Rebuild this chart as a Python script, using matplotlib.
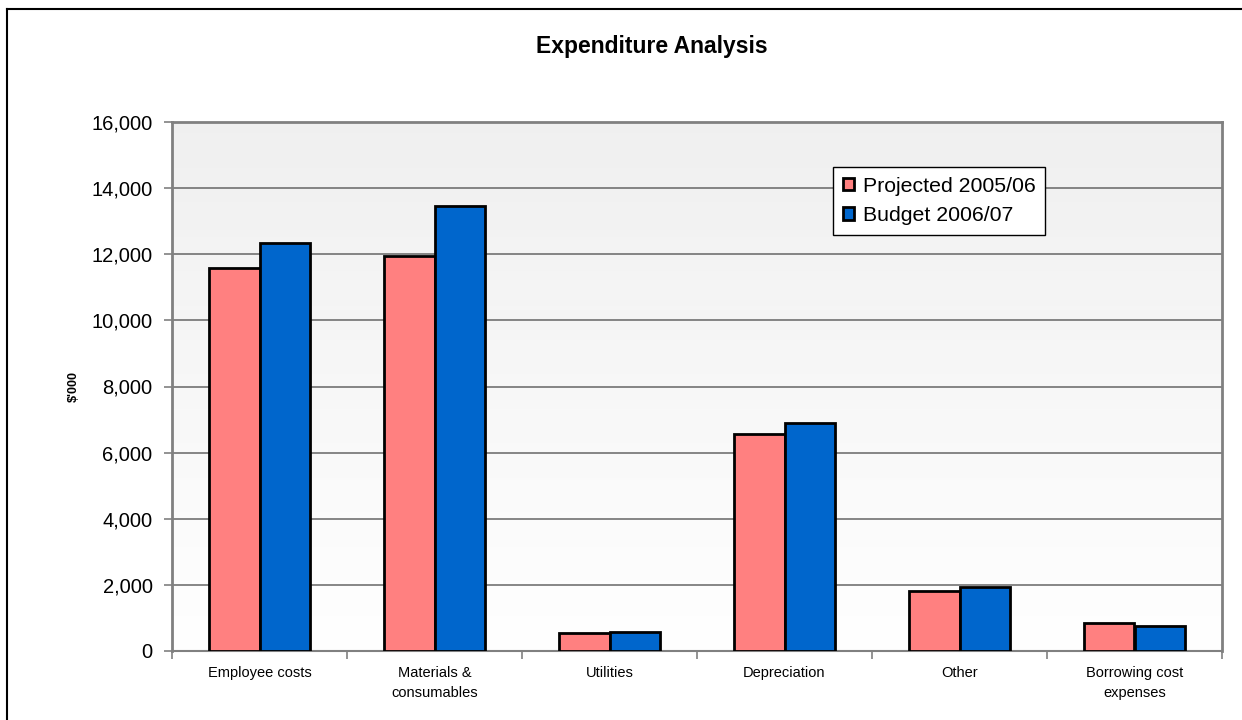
import numpy as np
import matplotlib
matplotlib.use("Agg")
import matplotlib.pyplot as plt
from matplotlib.lines import Line2D

plt.rcParams['font.family'] = ['Liberation Sans', 'DejaVu Sans']

categories = ["Employee costs", "Materials &\nconsumables", "Utilities",
              "Depreciation", "Other", "Borrowing cost\nexpenses"]
projected = [11580, 11960, 530, 6550, 1820, 840]
budget = [12340, 13470, 560, 6910, 1940, 770]
series_names = ["Projected 2005/06", "Budget 2006/07"]
yticks = [0, 2000, 4000, 6000, 8000, 10000, 12000, 14000, 16000]


def main():
    fig = plt.figure(figsize=(12.42, 7.2), dpi=100)
    ax = fig.add_axes([172 / 1242, 1 - 651 / 720, 1050 / 1242, 529 / 720])

    # light grey at the top fading to white at the bottom
    grad = np.linspace(0.94, 1.0, 256).reshape(-1, 1)
    ax.imshow(np.dstack([grad, grad, grad]), extent=[0, 1, 0, 1],
              transform=ax.transAxes, aspect="auto", zorder=0)

    x = np.arange(len(categories))
    w = 0.287
    ax.bar(x - w / 2, projected, w, color="#FF8080", edgecolor="black",
           linewidth=2, zorder=3, label=series_names[0])
    ax.bar(x + w / 2, budget, w, color="#0066CC", edgecolor="black",
           linewidth=2, zorder=3, label=series_names[1])

    ax.set_xlim(-0.5, len(categories) - 0.5)
    ax.set_ylim(0, 16000)
    ax.set_yticks(yticks)
    ax.set_yticklabels([f"{v:,}" for v in yticks], fontsize=14.5)
    ax.yaxis.grid(True, color="#666666", linewidth=1.1, zorder=1)
    ax.set_axisbelow(True)

    ax.set_xticks(x)
    ax.set_xticklabels(categories, fontsize=10.5, linespacing=1.5)
    ax.tick_params(axis="x", length=0, pad=11)
    ax.set_xticks(np.arange(len(categories) + 1) - 0.5, minor=True)
    ax.tick_params(axis="x", which="minor", length=6, color="#808080",
                   width=1.2)
    ax.tick_params(axis="y", length=6, color="#808080", width=1.2, pad=8)

    for s in ax.spines.values():
        s.set_color("#808080")
        s.set_linewidth(2)
    ax.spines["bottom"].set_linewidth(1.5)

    ax.set_ylabel("$'000", fontsize=9, fontweight="bold", labelpad=8)

    ax.legend(loc="upper left", bbox_to_anchor=(0.6295, 0.915),
              borderaxespad=0, fontsize=15.3, frameon=True, fancybox=False,
              edgecolor="black", framealpha=1, handlelength=0.55,
              handleheight=0.55, handletextpad=0.4, borderpad=0.45,
              labelspacing=0.5)

    fig.text(652 / 1242, 1 - 47 / 720, "Expenditure Analysis", fontsize=16.5,
             fontweight="bold", ha="center", va="center")

    # outer chart frame, cut off on the right and bottom
    fig.add_artist(Line2D([7 / 1242, 7 / 1242], [0, 1 - 9 / 720],
                          transform=fig.transFigure, color="black",
                          linewidth=1.5))
    fig.add_artist(Line2D([7 / 1242, 1], [1 - 9 / 720, 1 - 9 / 720],
                          transform=fig.transFigure, color="black",
                          linewidth=1.5))

    fig.savefig("out.png", dpi=100)


if __name__ == "__main__":
    main()
